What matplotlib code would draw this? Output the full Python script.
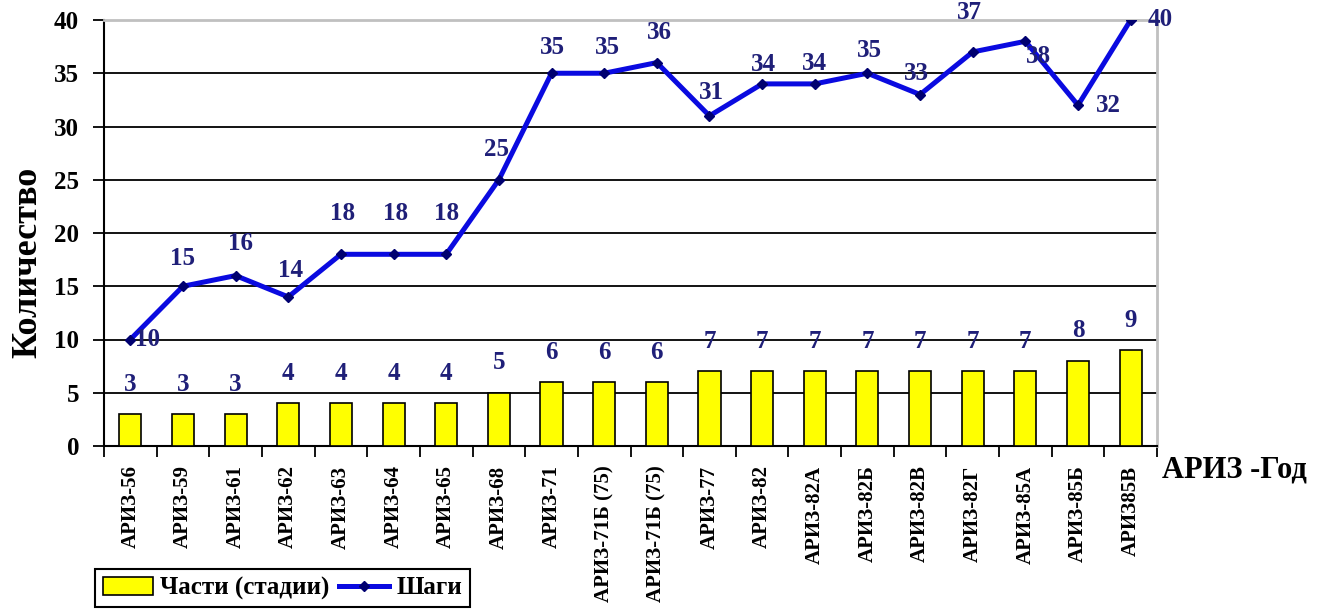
import numpy as np
import matplotlib
matplotlib.use("Agg")
import matplotlib.pyplot as plt

versions = ["АРИЗ-56", "АРИЗ-59", "АРИЗ-61", "АРИЗ-62", "АРИЗ-63", "АРИЗ-64", "АРИЗ-65",
            "АРИЗ-68", "АРИЗ-71", "АРИЗ-71Б (75)", "АРИЗ-71Б (75)", "АРИЗ-77", "АРИЗ-82",
            "АРИЗ-82А", "АРИЗ-82Б", "АРИЗ-82В", "АРИЗ-82Г", "АРИЗ-85А", "АРИЗ-85Б", "АРИЗ85В"]
parts = [3, 3, 3, 4, 4, 4, 4, 5, 6, 6, 6, 7, 7, 7, 7, 7, 7, 7, 8, 9]
steps = [10, 15, 16, 14, 18, 18, 18, 25, 35, 35, 36, 31, 34, 34, 35, 33, 37, 38, 32, 40]

# label offsets for the line (pixels)
step_off = [(17, 0), (0, 28), (5, 32), (2, 26), (2, 41), (2, 41), (0, 41), (-2, 30),
            (1, 26), (3, 26), (3, 30), (2, 23), (1, 19), (0, 20), (2, 23), (-4, 21),
            (-3, 39), (13, -15), (30, 0), (30, 0)]

SERIF = "Liberation Serif"
NAVY = "#1f1f78"
plt.rcParams["font.family"] = SERIF
plt.rcParams["font.weight"] = "bold"

fig = plt.figure(figsize=(13.3, 6.14), dpi=100)
ax = fig.add_axes([104/1330, 1-446/614, (1157-104)/1330, (446-20)/614])

x = np.arange(len(versions))
bars = ax.bar(x, parts, width=0.42, color="#ffff00", edgecolor="black", linewidth=1.2,
              zorder=3, label="Части (стадии)")
line, = ax.plot(x, steps, color="#0a0ae0", lw=3.6, marker="D", ms=5.5,
                mfc="#000070", mec="#000070", zorder=4, label="Шаги")

for xi, v in zip(x, parts):
    ax.annotate(str(v), (xi, v), xytext=(0, 30), textcoords="offset pixels",
                ha="center", va="center", fontsize=18, color=NAVY, fontweight="bold", zorder=5)
for xi, v, (dx, dy) in zip(x, steps, step_off):
    ax.annotate(str(v), (xi, v), xytext=(dx, dy), textcoords="offset pixels",
                ha="center", va="center", fontsize=18, color=NAVY, fontweight="bold",
                zorder=5, annotation_clip=False)

ax.set_xlim(-0.5, len(versions) - 0.5)
ax.set_ylim(0, 40)
ax.set_yticks(np.arange(0, 41, 5))
ax.yaxis.grid(True, color="black", lw=1.3)
ax.set_axisbelow(True)
ax.tick_params(axis="y", direction="out", length=8, width=1.3, pad=10, labelsize=18)

ax.set_xticks(x)
ax.set_xticklabels(versions, rotation=90, fontsize=15, va="top")
ax.set_xticks(np.arange(-0.5, len(versions), 1), minor=True)
ax.tick_params(axis="x", which="major", length=0, pad=14)
ax.tick_params(axis="x", which="minor", direction="out", length=8, width=1.3)

for s in ["left", "bottom"]:
    ax.spines[s].set_color("black")
    ax.spines[s].set_linewidth(1.5)
for s in ["top", "right"]:
    ax.spines[s].set_color("#c0c0c0")
    ax.spines[s].set_linewidth(2)

fig.text(28/1330, 1-262/614, "Количество", rotation=90, ha="center", va="center",
         fontsize=26, fontweight="bold")
fig.text(1162/1330, 1-470/614, "АРИЗ -Год", ha="left", va="center",
         fontsize=22, fontweight="bold")

leg = fig.legend(handles=[bars, line], loc="upper left", bbox_to_anchor=(95/1330, 1-569/614),
                 ncol=2, fontsize=18, frameon=True, fancybox=False, edgecolor="black",
                 framealpha=1, handlelength=2.0, handleheight=0.7, columnspacing=0.4,
                 handletextpad=0.3, borderaxespad=0, borderpad=0.3)
leg.get_frame().set_linewidth(1.5)

fig.savefig("out.png", dpi=100)
